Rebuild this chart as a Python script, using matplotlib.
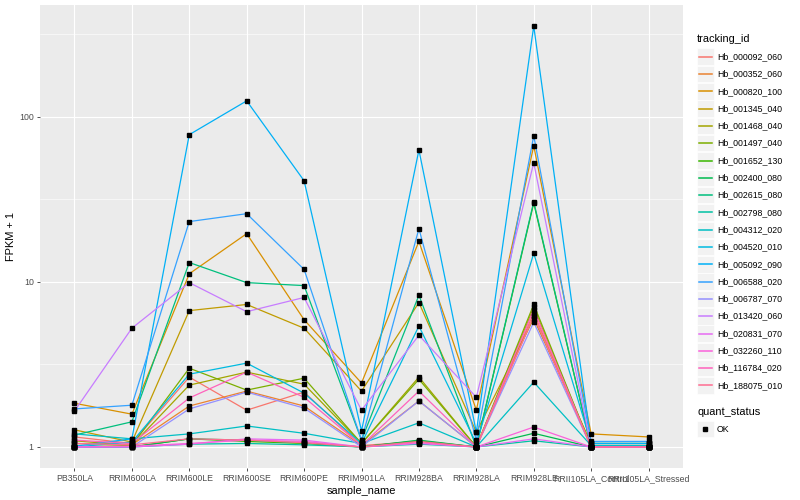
import numpy as np
import matplotlib.pyplot as plt
from matplotlib.patches import Rectangle
from matplotlib.lines import Line2D

plt.rcParams['font.family'] = ['Liberation Sans', 'DejaVu Sans']

# x categories
samples = ['PB350LA', 'RRIM600LA', 'RRIM600LE', 'RRIM600SE', 'RRIM600PE',
           'RRIM901LA', 'RRIM928BA', 'RRIM928LA', 'RRIM928LE',
           'RRII105LA_Control', 'RRII105LA_Stressed']

tracking_ids = ['Hb_000092_060', 'Hb_000352_060', 'Hb_000820_100', 'Hb_001345_040',
                'Hb_001468_040', 'Hb_001497_040', 'Hb_001652_130', 'Hb_002400_080',
                'Hb_002615_080', 'Hb_002798_080', 'Hb_004312_020', 'Hb_004520_010',
                'Hb_005092_090', 'Hb_006588_020', 'Hb_006787_070', 'Hb_013420_060',
                'Hb_020831_070', 'Hb_032260_110', 'Hb_116784_020', 'Hb_188075_010']

# ggplot hue palette, 20 levels
palette = ['#F8766D', '#EA8331', '#D89000', '#C09B00', '#A3A500', '#7CAE00', '#39B600',
           '#00BB4E', '#00BF7D', '#00C1A3', '#00BFC4', '#00BAE0', '#00B0F6', '#35A2FF',
           '#9590FF', '#C77CFF', '#E76BF3', '#FA62DB', '#FF62BC', '#FF6C91']

# FPKM + 1, one row per tracking_id, columns follow samples
fpkm_plus1 = [
    [1.15, 1.05, 2.65, 1.67, 2.15, 1.02, 1.08, 1.00, 6.5, 1.00, 1.00],
    [1.05, 1.03, 1.77, 2.18, 1.77, 1.02, 1.90, 1.00, 6.2, 1.02, 1.02],
    [1.84, 1.58, 11.2, 19.6, 5.9, 2.44, 17.6, 1.67, 66.8, 1.20, 1.15],
    [1.27, 1.07, 6.7, 7.3, 5.24, 2.18, 7.5, 1.23, 6.0, 1.05, 1.05],
    [1.09, 1.02, 2.37, 2.84, 2.40, 1.05, 2.65, 1.00, 7.0, 1.00, 1.00],
    [1.00, 1.02, 3.00, 2.21, 2.61, 1.05, 2.57, 1.00, 7.3, 1.00, 1.00],
    [1.00, 1.00, 1.12, 1.08, 1.05, 1.00, 1.09, 1.00, 30.0, 1.00, 1.00],
    [1.00, 1.00, 1.12, 1.10, 1.06, 1.00, 1.10, 1.00, 1.21, 1.00, 1.00],
    [1.18, 1.42, 13.1, 9.9, 9.5, 1.10, 8.3, 1.00, 30.6, 1.00, 1.00],
    [1.00, 1.00, 1.04, 1.05, 1.03, 1.00, 1.04, 1.00, 1.09, 1.00, 1.00],
    [1.20, 1.12, 1.20, 1.34, 1.21, 1.05, 1.40, 1.00, 2.47, 1.02, 1.02],
    [1.00, 1.07, 2.76, 3.22, 2.12, 1.05, 5.4, 1.05, 14.9, 1.05, 1.05],
    [1.01, 1.12, 78.0, 125.0, 41.0, 1.25, 63.0, 1.23, 355.0, 1.05, 1.05],
    [1.70, 1.79, 23.2, 25.9, 11.9, 1.10, 21.0, 1.10, 76.8, 1.08, 1.08],
    [1.00, 1.00, 1.70, 2.15, 1.72, 1.00, 1.90, 1.00, 5.7, 1.00, 1.00],
    [1.65, 5.24, 9.9, 6.6, 8.05, 1.67, 4.75, 2.00, 52.7, 1.00, 1.00],
    [1.00, 1.00, 1.04, 1.12, 1.10, 1.00, 1.05, 1.00, 1.12, 1.00, 1.00],
    [1.00, 1.01, 1.05, 1.10, 1.08, 1.00, 1.06, 1.00, 1.32, 1.00, 1.00],
    [1.10, 1.05, 1.98, 2.84, 2.00, 1.02, 2.18, 1.00, 6.8, 1.00, 1.00],
    [1.05, 1.03, 1.12, 1.10, 1.06, 1.00, 1.08, 1.00, 6.2, 1.00, 1.00],
]

W, H = 800, 500
fig = plt.figure(figsize=(8, 5), dpi=100)
ax = fig.add_axes([40 / W, 1 - 468 / H, (683 - 40) / W, (468 - 5) / H])
ax.set_facecolor('#EBEBEB')

x = np.arange(len(samples))
for vals, col in zip(fpkm_plus1, palette):
    ax.plot(x, vals, color=col, lw=0.9, zorder=3)
for vals in fpkm_plus1:
    ax.plot(x, vals, ls='none', marker='s', ms=2.8, color='black', zorder=4)

ax.set_yscale('log')
lo = min(min(v) for v in fpkm_plus1)
hi = max(max(v) for v in fpkm_plus1)
span = np.log10(hi) - np.log10(lo)
ax.set_ylim(10 ** (np.log10(lo) - 0.05 * span), 10 ** (np.log10(hi) + 0.05 * span))
ax.set_xlim(-0.6, len(samples) - 0.4)

ax.set_yticks([1, 10, 100])
ax.set_yticklabels(['1', '10', '100'])
ax.set_yticks([10 ** 0.5, 10 ** 1.5, 10 ** 2.5], minor=True)
ax.yaxis.set_minor_formatter(plt.NullFormatter())
ax.set_xticks(x)
ax.set_xticklabels(samples)

ax.grid(True, which='major', color='white', lw=0.8, zorder=0)
ax.grid(True, which='minor', axis='y', color='white', lw=0.4, zorder=0)
ax.set_axisbelow(True)
for s in ax.spines.values():
    s.set_visible(False)
ax.tick_params(which='major', length=2.5, width=0.6, color='#333333',
               labelsize=6.3, labelcolor='#4D4D4D', pad=2)
ax.tick_params(which='minor', length=0)

ax.set_xlabel('sample_name', fontsize=7.9, labelpad=2)
ax.set_ylabel('FPKM + 1', fontsize=7.9, labelpad=2)

# legends
def fx(px):
    return px / W

def fy(py):
    return 1 - py / H

fig.text(fx(697), fy(39), 'tracking_id', fontsize=7.9, va='center', ha='left')
for i, (name, col) in enumerate(zip(tracking_ids, palette)):
    yc = 56.7 + i * 17.3
    fig.add_artist(Rectangle((fx(697), fy(yc + 8.3)), 16.5 / W, 16.5 / H,
                             transform=fig.transFigure, facecolor='#F2F2F2',
                             edgecolor='white', lw=0.5))
    fig.add_artist(Line2D([fx(699), fx(712)], [fy(yc), fy(yc)],
                          transform=fig.transFigure, color=col, lw=1.1))
    fig.text(fx(717), fy(yc), name, fontsize=6.3, va='center', ha='left')

fig.text(fx(697), fy(412), 'quant_status', fontsize=7.9, va='center', ha='left')
fig.add_artist(Rectangle((fx(697), fy(429 + 8.3)), 16.5 / W, 16.5 / H,
                         transform=fig.transFigure, facecolor='#F2F2F2',
                         edgecolor='white', lw=0.5))
fig.add_artist(Line2D([fx(705)], [fy(429)], transform=fig.transFigure,
                      marker='s', ms=2.8, color='black', ls='none'))
fig.text(fx(717), fy(429), 'OK', fontsize=6.3, va='center', ha='left')

fig.savefig('out.png', dpi=100)
